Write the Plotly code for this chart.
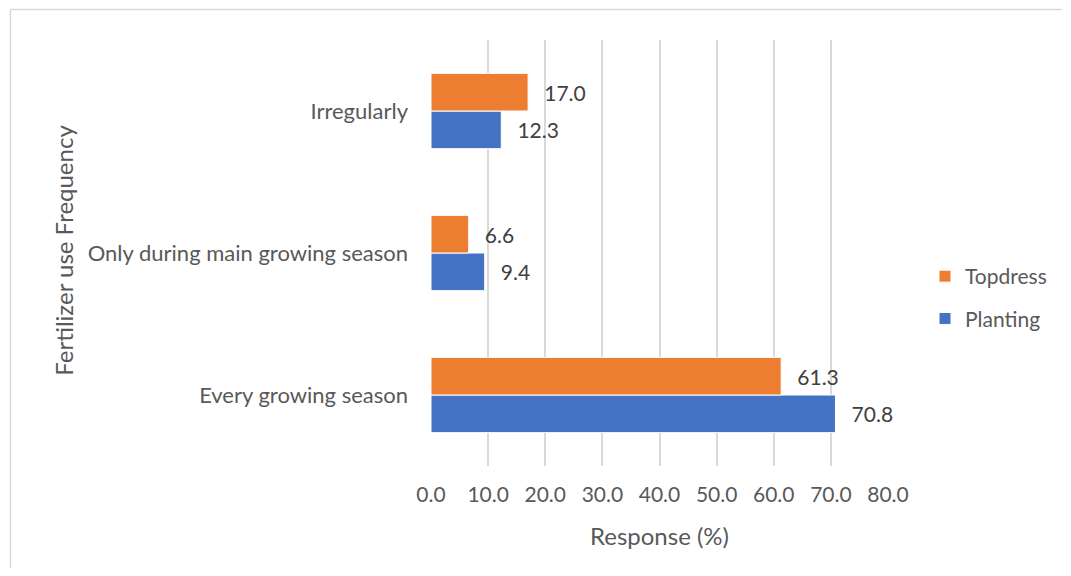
import plotly.graph_objects as go

categories = ["Every growing season", "Only during main growing season", "Irregularly"]
planting = [70.8, 9.4, 12.3]
topdress = [61.3, 6.6, 17.0]
x_ticks = [0, 10, 20, 30, 40, 50, 60, 70, 80]

# page body adds an 8px margin, so the figure is sized to fill the window exactly
W, H = 1055, 560
L, T = 423, 32
pw, ph = 458, 426
R, B = W - L - pw, H - T - ph

TEXT = "#595959"
FONT = "Lato"

fig = go.Figure()
fig.add_trace(go.Bar(
    y=categories, x=planting, name="Planting", orientation="h",
    marker=dict(color="#4472C4", line=dict(color="white", width=1)),
    text=[f"\u2002\u2009{v:.1f}" for v in planting], textposition="outside",
    textfont=dict(color="#404040", size=21, family=FONT), cliponaxis=False,
    legendgroup="p", legendrank=2,
))
fig.add_trace(go.Bar(
    y=categories, x=topdress, name="Topdress", orientation="h",
    marker=dict(color="#ED7D31", line=dict(color="white", width=1)),
    text=[f"\u2002\u2009{v:.1f}" for v in topdress], textposition="outside",
    textfont=dict(color="#404040", size=21, family=FONT), cliponaxis=False,
    legendgroup="t", legendrank=1,
))

fig.update_layout(
    width=W, height=H,
    margin=dict(l=L, r=R, t=T, b=B),
    paper_bgcolor="white", plot_bgcolor="white",
    barmode="group", bargap=0.47, bargroupgap=0,
    font=dict(family=FONT, color=TEXT, size=21),
    showlegend=True,
    legend=dict(
        traceorder="grouped", tracegroupgap=12,
        x=(917 - L) / pw, xanchor="left", y=(T + ph - 289.5) / ph, yanchor="middle",
        font=dict(size=21, color=TEXT), itemwidth=30,
    ),
    xaxis=dict(
        range=[0, 80], tickvals=x_ticks, ticktext=[f"{v:.1f}" for v in x_ticks],
        showgrid=True, gridcolor="#D9D9D9", gridwidth=1.5,
        zeroline=False, showline=False, ticks="",
        ticklabelstandoff=14, automargin=False,
        title=dict(text="Response (%)", font=dict(size=24, color=TEXT), standoff=23),
        tickfont=dict(size=21, color=TEXT),
    ),
    yaxis=dict(
        showgrid=False, zeroline=False, showline=False, ticks="",
        ticklabelstandoff=22, automargin=False,
        tickfont=dict(size=22, color=TEXT),
    ),
    annotations=[
        dict(text="Fertilizer use Frequency", textangle=-90, showarrow=False,
             xref="paper", yref="paper", x=(54 - L) / pw, y=(T + ph - 242) / ph,
             xanchor="center", yanchor="middle",
             font=dict(size=24, color=TEXT, family=FONT)),
    ],
    shapes=[
        dict(type="line", xref="paper", yref="paper",
             x0=(1.5 - L) / pw, x1=(W - L) / pw,
             y0=(T + ph - 1.5) / ph, y1=(T + ph - 1.5) / ph,
             line=dict(color="#D9D9D9", width=1.5)),
        dict(type="line", xref="paper", yref="paper",
             x0=(1.5 - L) / pw, x1=(1.5 - L) / pw,
             y0=(T + ph - 1.5) / ph, y1=(-B) / ph,
             line=dict(color="#D9D9D9", width=1.5)),
    ],
)

fig.write_html("out.html")
